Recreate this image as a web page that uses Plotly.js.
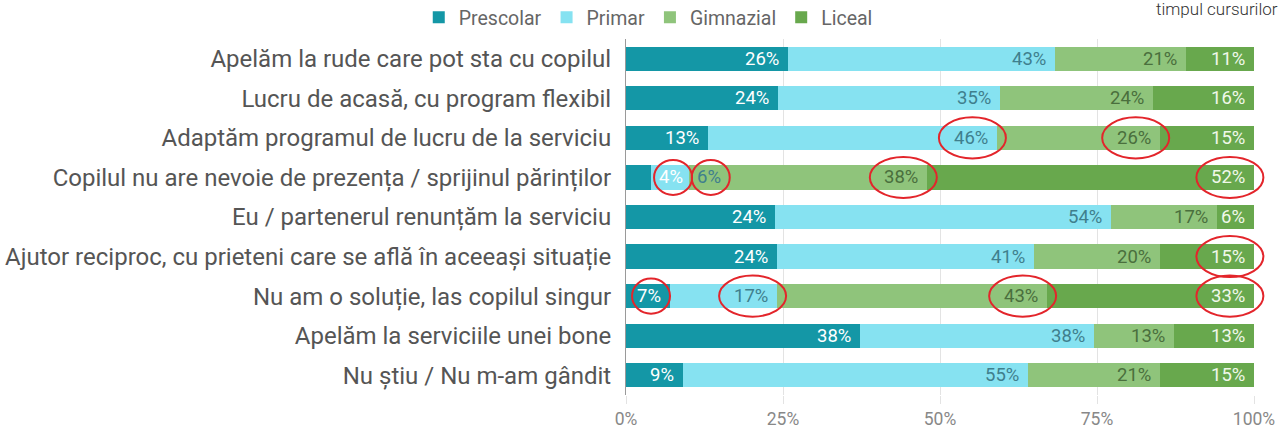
<!DOCTYPE html>
<html>
<head>
<meta charset="utf-8">
<script src="https://cdn.plot.ly/plotly-3.0.1.min.js"></script>
<style>
  html, body { margin: 0; padding: 0; background: #ffffff; }
  #chart { width: 1283px; height: 428px; }
</style>
</head>
<body>
<div id="chart"></div>
<script>
// ---- data ----
const categories = [
  "Apelăm la rude care pot sta cu copilul",
  "Lucru de acasă, cu program flexibil",
  "Adaptăm programul de lucru de la serviciu",
  "Copilul nu are nevoie de prezența / sprijinul părinților",
  "Eu / partenerul renunțăm la serviciu",
  "Ajutor reciproc, cu prieteni care se află în aceeași situație",
  "Nu am o soluție, las copilul singur",
  "Apelăm la serviciile unei bone",
  "Nu știu / Nu m-am gândit"
];
const seriesNames = ["Prescolar", "Primar", "Gimnazial", "Liceal"];
const prescolar = [26, 24, 13, 4, 24, 24, 7, 38, 9];
const primar    = [43, 35, 46, 6, 54, 41, 17, 38, 55];
const gimnazial = [21, 24, 26, 38, 17, 20, 43, 13, 21];
const liceal    = [11, 16, 15, 52, 6, 15, 33, 13, 15];
const xTickVals = [0, 25, 50, 75, 100];
const xTickText = ["0%", "25%", "50%", "75%", "100%"];
const cornerText = "timpul cursurilor";

// highlighted labels: [row index, series index]
const highlighted = [[2,1],[2,2],[3,0],[3,1],[3,2],[3,3],[5,3],[6,0],[6,1],[6,2],[6,3]];

// ---- styles ----
const colors = ["#1497a6", "#86e2f1", "#8fc47b", "#68a84d"];
const labelColors = ["#ffffff", "#3f7f8d", "#4a6f3d", "#f0f8ea"];
const FONT = "Roboto, 'Noto Sans', sans-serif";
const W = 628;          // plot width in px
const H = 355.5;        // plot height in px
const LABEL_SIZE = 18.5;

const series = [prescolar, primar, gimnazial, liceal];

const traces = series.map((vals, s) => ({
  type: "bar",
  orientation: "h",
  name: seriesNames[s],
  y: categories,
  x: vals,
  marker: { color: colors[s], line: { width: 0 } },
  hoverinfo: "skip"
}));

// value labels, placed from the normalized cumulative data
const annotations = [];
const labelPos = {};
function textW(str) {
  let w = 0;
  for (const ch of str) w += (ch === "%") ? LABEL_SIZE * 0.73 : LABEL_SIZE * 0.56;
  return w;
}
categories.forEach((cat, r) => {
  const total = series.reduce((a, v) => a + v[r], 0);
  let cum = 0;
  let prevRightPx = -1e9;
  series.forEach((vals, s) => {
    const pct = vals[r] / total * 100;
    const start = cum, end = cum + pct;
    cum = end;
    const txt = vals[r] + "%";
    const w = textW(txt);
    const startPx = start / 100 * W, endPx = end / 100 * W;
    let rightPx = endPx - 7;
    let leftPx = rightPx - w;
    if (leftPx < startPx + 2 || leftPx < prevRightPx + 4) {
      leftPx = Math.max(endPx + 10, prevRightPx + 8);
      rightPx = leftPx + w;
    }
    prevRightPx = rightPx;
    labelPos[r + "_" + s] = { cx: (leftPx + rightPx) / 2, len: txt.length };
    annotations.push({
      xref: "x", yref: "y",
      x: rightPx / W * 100, y: cat,
      xanchor: "right", yanchor: "middle",
      text: txt, showarrow: false,
      font: { family: FONT, size: LABEL_SIZE, color: labelColors[s] }
    });
  });
});

annotations.push({
  xref: "paper", yref: "paper",
  x: (1280 - 626) / W, y: 1, xanchor: "right", yanchor: "middle",
  yshift: 30, text: cornerText, showarrow: false,
  font: { family: FONT, size: 17, color: "#333333", weight: 300 }
});

// red ellipses around highlighted labels (paper coords so they are not clipped)
const nRows = categories.length;
const shapes = highlighted.map(([r, s]) => {
  const p = labelPos[r + "_" + s];
  const ew = p.len <= 2 ? 38 : 67;
  const eh = p.len <= 2 ? 35 : 41;
  const cy = 1 - (r + 0.5) / nRows;
  return {
    type: "circle", xref: "paper", yref: "paper", layer: "above",
    x0: (p.cx - ew / 2) / W, x1: (p.cx + ew / 2) / W,
    y0: cy - eh / 2 / H, y1: cy + eh / 2 / H,
    line: { color: "#e3252b", width: 2 }, fillcolor: "rgba(0,0,0,0)"
  };
});

const layout = {
  width: 1283, height: 428,
  margin: { l: 626, r: 29, t: 39, b: 33, pad: 0, autoexpand: false },
  paper_bgcolor: "#ffffff", plot_bgcolor: "#ffffff",
  barmode: "stack", barnorm: "percent", bargap: 0.39,
  font: { family: FONT, color: "#666666" },
  showlegend: true,
  legend: {
    orientation: "h", x: -0.33, xanchor: "left", y: 1.06, yanchor: "middle",
    font: { family: FONT, size: 19.5, color: "#666666" },
    traceorder: "normal", itemclick: false, itemdoubleclick: false
  },
  xaxis: {
    range: [0, 100], fixedrange: true,
    tickvals: xTickVals, ticktext: xTickText,
    showgrid: true, gridcolor: "#e3e3e3", gridwidth: 1,
    zeroline: false, showline: false,
    ticks: "outside", ticklen: 8, tickcolor: "#e3e3e3",
    tickfont: { family: FONT, size: 17.5, color: "#888888" }
  },
  yaxis: {
    autorange: "reversed", fixedrange: true, type: "category",
    showgrid: false, zeroline: false,
    showline: true, linecolor: "#9a9a9a", linewidth: 1,
    ticks: "", ticklabelstandoff: 9,
    tickfont: { family: FONT, size: 24, color: "#555555" }
  },
  annotations: annotations,
  shapes: shapes
};

Plotly.newPlot("chart", traces, layout, { displayModeBar: false, staticPlot: true });
</script>
</body>
</html>
